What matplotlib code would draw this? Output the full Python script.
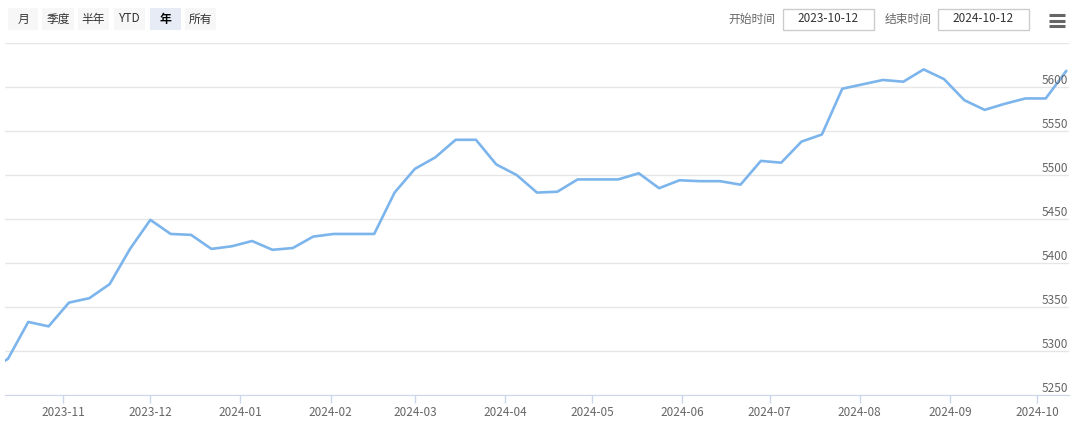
import pandas as pd
import matplotlib.pyplot as plt
import matplotlib.dates as mdates
from matplotlib.patches import Rectangle
from matplotlib.lines import Line2D

plt.rcParams['font.family'] = ['Noto Sans CJK SC', 'DejaVu Sans']

# data: one point on the start date, then weekly (Fridays)
first_date = ['2023-10-12']
weekly_start = '2023-10-13'
values = [5289,
          5291, 5333, 5328, 5355, 5360, 5376, 5416, 5449, 5433, 5432,
          5416, 5419, 5425, 5415, 5417, 5430, 5433, 5433, 5433, 5480,
          5507, 5520, 5540, 5540, 5512, 5500, 5480, 5481, 5495, 5495,
          5495, 5502, 5485, 5494, 5493, 5493, 5489, 5516, 5514, 5538,
          5546, 5598, 5603, 5608, 5606, 5620, 5609, 5585, 5574, 5581,
          5587, 5587, 5618]
dates = pd.to_datetime(first_date).append(
    pd.date_range(weekly_start, periods=len(values) - 1, freq='7D'))

y_ticks = [5250, 5300, 5350, 5400, 5450, 5500, 5550, 5600, 5650]
range_buttons = ['月', '季度', '半年', 'YTD', '年', '所有']
selected_button = '年'
start_label, start_value = '开始时间', '2023-10-12'
end_label, end_value = '结束时间', '2024-10-12'

W, H = 1080, 422
fig = plt.figure(figsize=(W / 100, H / 100), dpi=100)

def fx(px):
    return px / W

def fy(py):
    return 1 - py / H

ax = fig.add_axes([fx(5), fy(395), fx(1069) - fx(5), fy(43) - fy(395)])
ax.plot(dates, values, color='#7cb5ec', lw=1.9, solid_joinstyle='round', clip_on=True)

ax.set_xlim(pd.Timestamp('2023-10-12'), pd.Timestamp('2024-10-12'))
ax.set_ylim(5250, 5650)
ax.xaxis.set_major_locator(mdates.MonthLocator())
ax.xaxis.set_major_formatter(mdates.DateFormatter('%Y-%m'))
ax.tick_params(axis='x', colors='#ccd6eb', length=6, width=1, labelcolor='#666666',
               labelsize=8.5, pad=2)

ax.set_yticks(y_ticks)
ax.grid(axis='y', color='#e6e6e6', lw=1)
ax.set_axisbelow(True)
ax.tick_params(axis='y', left=False, labelleft=False)
for v in y_ticks[:-1]:
    ax.text(0.999, v, str(v), transform=ax.get_yaxis_transform(), ha='right', va='bottom',
            fontsize=8.5, color='#666666')

for s in ['top', 'left', 'right']:
    ax.spines[s].set_visible(False)
ax.spines['bottom'].set_color('#ccd6eb')

# range selector buttons
btn_x = [8, 42, 78, 114, 150, 185]
btn_w = [30, 32, 31, 31, 31, 31]
for name, x0, w in zip(range_buttons, btn_x, btn_w):
    sel = name == selected_button
    fig.add_artist(Rectangle((fx(x0), fy(30)), fx(w), fy(8) - fy(30), transform=fig.transFigure,
                             facecolor='#e6ebf5' if sel else '#f7f7f7', edgecolor='none'))
    fig.text(fx(x0 + w / 2), fy(19), name, ha='center', va='center', fontsize=8.5,
             color='#000000' if sel else '#333333', fontweight='bold' if sel else 'normal')

# date inputs
fig.text(fx(775), fy(19), start_label, ha='right', va='center', fontsize=8.5, color='#666666')
fig.add_artist(Rectangle((fx(783), fy(30)), fx(91), fy(9) - fy(30), transform=fig.transFigure,
                         facecolor='white', edgecolor='#cccccc', lw=1))
fig.text(fx(828.5), fy(19), start_value, ha='center', va='center', fontsize=8.5, color='#333333')
fig.text(fx(932), fy(19), end_label, ha='right', va='center', fontsize=8.5, color='#666666')
fig.add_artist(Rectangle((fx(938), fy(30)), fx(91), fy(9) - fy(30), transform=fig.transFigure,
                         facecolor='white', edgecolor='#cccccc', lw=1))
fig.text(fx(983.5), fy(19), end_value, ha='center', va='center', fontsize=8.5, color='#333333')

# menu icon
for py in [15, 20.5, 26]:
    fig.add_artist(Line2D([fx(1049), fx(1065)], [fy(py), fy(py)], transform=fig.transFigure,
                          color='#666666', lw=2.2, solid_capstyle='butt'))

fig.savefig('out.png', dpi=100, facecolor='white')
